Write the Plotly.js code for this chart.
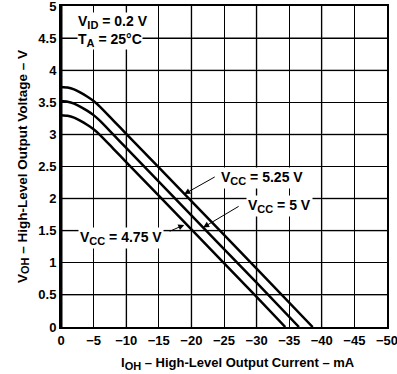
<!DOCTYPE html>
<html>
<head>
<meta charset="utf-8">
<script src="https://cdn.plot.ly/plotly-3.0.1.min.js"></script>
<style>html,body{margin:0;padding:0;background:#fff;}#chart{width:397px;height:374px;}</style>
</head>
<body>
<div id="chart"></div>
<script>
// Output current (mA) and high-level output voltage (V) for three supply voltages
const iVcc525 = [0, -1, -2, -3, -4, -5, -6, -8, -10, -20, -30, -38.6];
const vVcc525 = [3.74, 3.73, 3.70, 3.65, 3.59, 3.52, 3.43, 3.22, 3.01, 1.96, 0.91, 0];
const iVcc500 = [0, -1, -2, -3, -4, -5, -6, -8, -10, -20, -30, -36.5];
const vVcc500 = [3.52, 3.51, 3.48, 3.43, 3.37, 3.30, 3.21, 3.00, 2.79, 1.74, 0.69, 0];
const iVcc475 = [0, -1, -2, -3, -4, -5, -6, -8, -10, -20, -30, -34.4];
const vVcc475 = [3.30, 3.29, 3.26, 3.21, 3.15, 3.08, 2.99, 2.78, 2.57, 1.52, 0.47, 0];
const sub = s => '<sub><span style="font-size:11px">' + s + '</span></sub>';
const seriesNames = ['V' + sub('CC') + ' = 5.25 V', 'V' + sub('CC') + ' = 5 V', 'V' + sub('CC') + ' = 4.75 V'];
const grayX = [-10, -20, -30, -40];
const grayY = [0.5, 1.5, 2, 3, 4];
const darkY = [4.5];

const lineStyle = {color: '#000', width: 2.5, shape: 'spline', smoothing: 0.6};
const traces = [
  {x: iVcc525, y: vVcc525, name: 'VCC = 5.25 V', mode: 'lines', line: lineStyle},
  {x: iVcc500, y: vVcc500, name: 'VCC = 5 V', mode: 'lines', line: lineStyle},
  {x: iVcc475, y: vVcc475, name: 'VCC = 4.75 V', mode: 'lines', line: lineStyle}
];

const shapes = [];
grayX.forEach(v => shapes.push({type: 'line', layer: 'below', xref: 'x', yref: 'paper', x0: v, x1: v, y0: 0, y1: 1, line: {color: '#a0a0a0', width: 2}}));
grayY.forEach(v => shapes.push({type: 'line', layer: 'below', xref: 'paper', yref: 'y', x0: 0, x1: 1, y0: v, y1: v, line: {color: '#a0a0a0', width: 2}}));
darkY.forEach(v => shapes.push({type: 'line', layer: 'below', xref: 'paper', yref: 'y', x0: 0, x1: 1, y0: v, y1: v, line: {color: '#555', width: 1.5}}));
shapes.push({type: 'line', layer: 'above', xref: 'x', yref: 'paper', x0: 0, x1: 0, y0: 0, y1: 1, line: {color: '#000', width: 3}});

const txtFont = {family: 'Liberation Sans, Arial, sans-serif', size: 14, color: '#000', weight: 'bold'};
const titleFont = {family: 'Liberation Sans, Arial, sans-serif', size: 13, color: '#000', weight: 'bold'};
const annotations = [
  {x: -2.5, y: 4.75, xref: 'x', yref: 'y', text: 'V' + sub('ID') + ' = 0.2 V', showarrow: false, xanchor: 'left', yanchor: 'middle', bgcolor: '#fff', font: txtFont, borderpad: 0},
  {x: -2.5, y: 4.47, xref: 'x', yref: 'y', text: 'T' + sub('A') + ' = 25°C', showarrow: false, xanchor: 'left', yanchor: 'middle', bgcolor: '#fff', font: txtFont, borderpad: 0},
  {x: -24.3, y: 2.32, xref: 'x', yref: 'y', text: seriesNames[0], showarrow: false, xanchor: 'left', yanchor: 'middle', bgcolor: '#fff', font: txtFont, borderpad: 1},
  {x: -28.4, y: 1.89, xref: 'x', yref: 'y', text: seriesNames[1], showarrow: false, xanchor: 'left', yanchor: 'middle', bgcolor: '#fff', font: txtFont, borderpad: 1},
  {x: -2.65, y: 1.39, xref: 'x', yref: 'y', text: seriesNames[2], showarrow: false, xanchor: 'left', yanchor: 'middle', bgcolor: '#fff', font: txtFont, borderpad: 1},
  {x: -18.9, y: 2.07, xref: 'x', yref: 'y', text: '', showarrow: true, ax: 32, ay: -18, arrowhead: 2, arrowsize: 1.2, arrowwidth: 1, arrowcolor: '#000'},
  {x: -21.8, y: 1.55, xref: 'x', yref: 'y', text: '', showarrow: true, ax: 37, ay: -22, arrowhead: 2, arrowsize: 1.2, arrowwidth: 1, arrowcolor: '#000'},
  {x: -18.9, y: 1.59, xref: 'x', yref: 'y', text: '', showarrow: true, ax: -16, ay: 7, arrowhead: 2, arrowsize: 1.2, arrowwidth: 1, arrowcolor: '#000'},
  {x: 0.543, y: 0, xref: 'paper', yref: 'paper', yshift: -36, text: 'I' + sub('OH') + ' – High-Level Output Current – mA', showarrow: false, xanchor: 'center', yanchor: 'middle', font: titleFont}
];

const axisFont = {family: 'Liberation Sans, Arial, sans-serif', size: 13, color: '#000', weight: 'bold'};
const layout = {
  width: 397, height: 374,
  margin: {l: 61, r: 10, t: 6, b: 47},
  paper_bgcolor: '#fff', plot_bgcolor: '#fff',
  showlegend: false,
  font: axisFont,
  xaxis: {
    range: [0, -50], dtick: 5, tick0: 0, showgrid: true, gridcolor: '#000', gridwidth: 1,
    zeroline: false, showline: true, mirror: true, linecolor: '#000', linewidth: 2,
    ticks: '', tickfont: axisFont, fixedrange: true, ticklabeloverflow: 'allow'
  },
  yaxis: {
    range: [0, 5], dtick: 0.5, tick0: 0, showgrid: true, gridcolor: '#000', gridwidth: 1,
    zeroline: false, showline: true, mirror: true, linecolor: '#000', linewidth: 2,
    ticks: '', tickfont: axisFont, fixedrange: true, ticklabeloverflow: 'allow',
    title: {text: 'V' + sub('OH') + ' – High-Level Output Voltage – V', font: {family: 'Liberation Sans, Arial, sans-serif', size: 13.5, color: '#000', weight: 'bold'}, standoff: 8}
  },
  shapes: shapes,
  annotations: annotations
};

Plotly.newPlot('chart', traces, layout, {staticPlot: true, displayModeBar: false});
</script>
</body>
</html>
